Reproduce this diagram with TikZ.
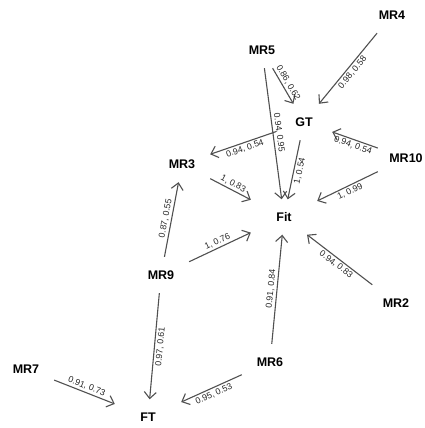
\documentclass[tikz,border=0pt]{standalone}
\usepackage{fontspec}
\setmainfont{Liberation Sans}
\usetikzlibrary{arrows.meta}
\definecolor{edgegray}{HTML}{505050}
\tikzset{
  var/.style={font=\bfseries\fontsize{12.5}{14}\selectfont, minimum width=56pt, minimum height=36pt, inner sep=0pt},
  wide/.style={var, minimum width=66pt, minimum height=35pt},
  edge/.style={draw=edgegray, line width=1.1pt, -{Straight Barb[length=6.5pt,width=12pt,line width=1.1pt]}},
  lab/.style={font=\fontsize{8.8}{10}\selectfont, sloped, inner sep=1.8pt, text=black!85}
}
\begin{document}
\begin{tikzpicture}[x=1pt,y=-1pt]
\useasboundingbox (0,0) rectangle (425,428);
\node[var]  (MR4)  at (392,15)  {MR4};
\node[var]  (MR5)  at (262,50)  {MR5};
\node[var]  (GT)   at (304,122) {GT};
\node[var]  (MR10) at (406,158) {MR10};
\node[var]  (MR3)  at (182,164) {MR3};
\node[wide] (Fit)  at (284,217) {Fit};
\node[var]  (MR9)  at (161,275) {MR9};
\node[var]  (MR2)  at (396,303) {MR2};
\node[var]  (MR6)  at (270,362) {MR6};
\node[var]  (MR7)  at (26,369)  {MR7};
\node[wide] (FT)   at (148,417) {FT};

\draw[edge] (MR4)  -- node[lab, below] {0.98, 0.58} (GT);
\draw[edge] (MR5)  -- node[lab, above] {0.86, 0.62} (GT);
\draw[edge] (MR5)  -- node[lab, above] {0.94, 0.95} (Fit);
\draw[edge] (GT)   -- node[lab, below] {1, 0.54} (Fit);
\draw[edge] (GT)   -- node[lab, below] {0.94, 0.54} (MR3);
\draw[edge] (MR10) -- node[lab, below] {0.94, 0.54} (GT);
\draw[edge] (MR10) -- node[lab, below] {1, 0.99} (Fit);
\draw[edge] (MR3)  -- node[lab, above] {1, 0.83} (Fit);
\draw[edge] (MR9)  -- node[lab, above] {0.87, 0.55} (MR3);
\draw[edge] (MR9)  -- node[lab, above] {1, 0.76} (Fit);
\draw[edge] (MR2)  -- node[lab, below] {0.94, 0.83} (Fit);
\draw[edge] (MR6)  -- node[lab, above] {0.91, 0.84} (Fit);
\draw[edge] (MR9)  -- node[lab, below] {0.97, 0.61} (FT);
\draw[edge] (MR7)  -- node[lab, above] {0.91, 0.73} (FT);
\draw[edge] (MR6)  -- node[lab, below] {0.95, 0.53} (FT);
\end{tikzpicture}
\end{document}
